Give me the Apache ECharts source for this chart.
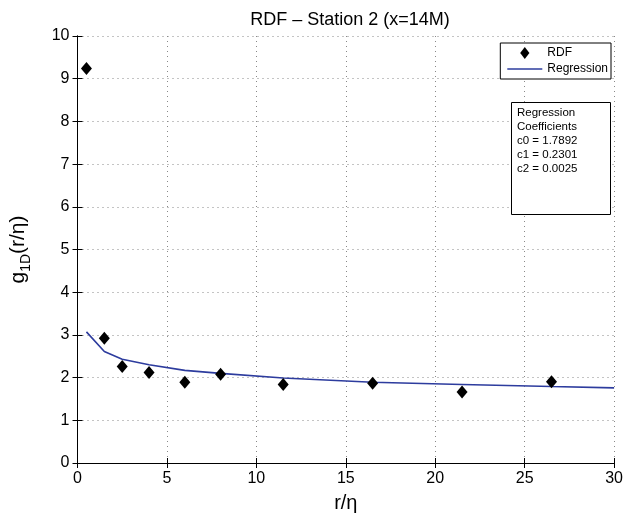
<!DOCTYPE html>
<html>
<head>
<meta charset="utf-8">
<script src="https://cdn.jsdelivr.net/npm/echarts@6/dist/echarts.min.js"></script>
<style>html,body{margin:0;padding:0;background:#fff}#c{width:626px;height:521px}</style>
</head>
<body>
<div id="c"></div>
<script>
var rdfX = [0.5, 1.5, 2.5, 4, 6, 8, 11.5, 16.5, 21.5, 26.5];
var rdfY = [9.24, 2.92, 2.26, 2.12, 1.89, 2.08, 1.84, 1.87, 1.66, 1.90];
var regX = [0.5, 1.5, 2.5, 4, 6, 8, 11.5, 16.5, 21.5, 26.5, 30];
var regY = [3.07, 2.61, 2.43, 2.30, 2.17, 2.10, 1.99, 1.89, 1.84, 1.79, 1.76];
var coeffLines = ['Regression', 'Coefficients', 'c0 = 1.7892', 'c1 = 0.2301', 'c2 = 0.0025'];

var FONT = 'Liberation Sans, Arial, Helvetica, sans-serif';
var LINE_COLOR = '#2d3c9e';
var chart = echarts.init(document.getElementById('c'), null, {renderer: 'canvas'});
function pairs(xs, ys) { return xs.map(function (x, i) { return [x, ys[i]]; }); }
var gridLine = {show: true, lineStyle: {color: '#888', type: [1, 4], width: 1}};
var baseAxisLine = {show: true, lineStyle: {color: '#000', width: 1}};
var tick = {show: true, inside: true, length: 5, lineStyle: {color: '#000'}};
chart.setOption({
  animation: false,
  backgroundColor: '#fff',
  textStyle: {fontFamily: FONT},
  title: {
    text: 'RDF \u2013 Station 2 (x=14M)',
    left: 345, top: 6, textAlign: 'center',
    textStyle: {fontFamily: FONT, fontSize: 18, fontWeight: 'normal', color: '#000'}
  },
  grid: {left: 75, right: 11, top: 36, bottom: 58, containLabel: false},
  legend: {
    orient: 'vertical', right: 15, top: 43,
    backgroundColor: '#fff', borderColor: '#000', borderWidth: 1,
    padding: [4, 3, 4, 7], itemGap: 4, itemWidth: 35, itemHeight: 12,
    textStyle: {fontFamily: FONT, fontSize: 12, color: '#000'},
    data: [
      {name: 'RDF', icon: 'path://M5,0L10,6.5L5,13L0,6.5Z', itemStyle: {color: '#000', opacity: 1}},
      {name: 'Regression', icon: 'path://M0,0H35V1.6H0Z', itemStyle: {color: LINE_COLOR}}
    ]
  },
  xAxis: [{
    type: 'value', min: 0, max: 30, interval: 5,
    name: 'r/\u03b7', nameLocation: 'middle', nameGap: 30,
    nameTextStyle: {fontFamily: FONT, fontSize: 20, color: '#000'},
    axisLine: baseAxisLine, axisTick: tick,
    axisLabel: {fontFamily: FONT, fontSize: 16, color: '#000', margin: 8},
    splitLine: gridLine
  }, {
    type: 'value', min: 0, max: 30, interval: 5, position: 'top',
    axisLine: baseAxisLine, axisTick: tick, axisLabel: {show: false}, splitLine: {show: false}
  }],
  yAxis: [{
    type: 'value', min: 0, max: 10, interval: 1,
    name: '{a|g}{b|1D}{a|(r/\u03b7)}', nameLocation: 'middle', nameGap: 44, nameRotate: 90,
    nameTextStyle: {
      rich: {
        a: {fontFamily: FONT, fontSize: 21, color: '#000', lineHeight: 30, verticalAlign: 'middle'},
        b: {fontFamily: FONT, fontSize: 14, color: '#000', lineHeight: 14, verticalAlign: 'bottom'}
      }
    },
    axisLine: baseAxisLine, axisTick: tick,
    axisLabel: {fontFamily: FONT, fontSize: 16, color: '#000', margin: 8},
    splitLine: gridLine
  }, {
    type: 'value', min: 0, max: 10, interval: 1, position: 'right',
    axisLine: baseAxisLine, axisTick: tick, axisLabel: {show: false}, splitLine: {show: false}
  }],
  series: [{
    name: 'RDF', type: 'scatter', symbol: 'diamond', symbolSize: [11, 13],
    itemStyle: {color: '#000', opacity: 1}, z: 3,
    data: pairs(rdfX, rdfY)
  }, {
    name: 'Regression', type: 'line', showSymbol: false, symbol: 'none',
    lineStyle: {color: LINE_COLOR, width: 1.6}, itemStyle: {color: LINE_COLOR},
    data: pairs(regX, regY), z: 2
  }],
  graphic: [{
    type: 'rect', left: 511, top: 102, z: 10,
    shape: {width: 99, height: 112},
    style: {fill: '#fff', stroke: '#000', lineWidth: 1}
  }, {
    type: 'text', left: 517, top: 106, z: 11,
    style: {text: coeffLines.join('\n'), fontFamily: FONT, fontSize: 11.5, lineHeight: 14, fill: '#000'}
  }]
});
</script>
</body>
</html>
